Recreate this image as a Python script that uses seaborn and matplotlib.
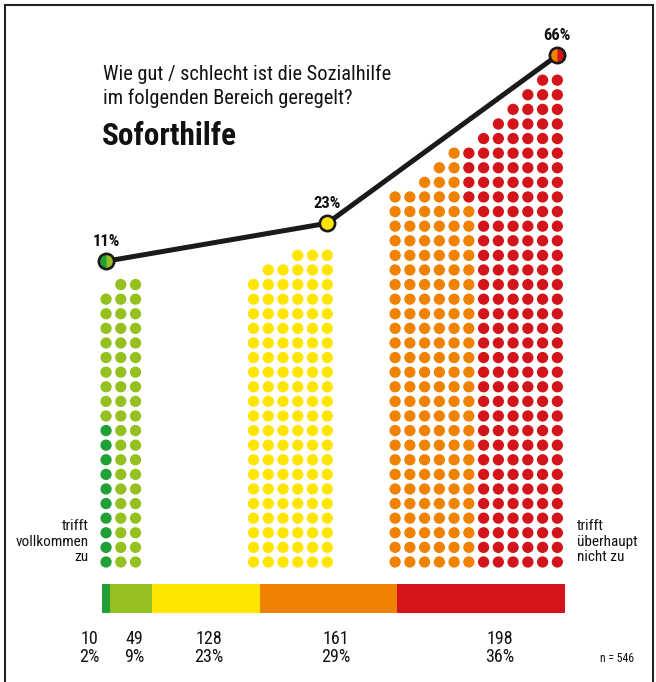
import numpy as np
import pandas as pd
import matplotlib
matplotlib.use('Agg')
import matplotlib.pyplot as plt
from matplotlib import font_manager
from matplotlib.patches import Rectangle
import seaborn as sns

# answer scale, counts and shares (n = 546)
answers = ['trifft vollkommen zu', 'eher zu', 'teils/teils', 'eher nicht', 'trifft überhaupt nicht zu']
counts = [10, 49, 128, 161, 198]
shares = [2, 9, 23, 29, 36]
colors = ['#21a038', '#94c11f', '#ffe500', '#ef8200', '#d3141b']

# grouped shares shown on the line
group_members = [[0, 1], [2], [3, 4]]
group_pct = [11, 23, 66]

# dots per column in each group
col_heights = [
    [19, 20, 20],
    [20, 21, 21, 22, 22, 22],
    [26, 26, 27, 28, 29, 29, 30, 31, 32, 33, 34, 34],
]
group_x0 = [0, 10, 19.6]       # left column of each block, in dot steps
line_col = [0, -1, -1]         # which column the line point sits over
line_gap = [1.6, 2.2, 1.7]     # point height above the top dot row

title = 'Wie gut / schlecht ist die Sozialhilfe\nim folgenden Bereich geregelt?'
subtitle = 'Soforthilfe'
n_total = sum(counts)

sns.set_theme(style='white')

# look for a narrow font, the original uses a condensed face
avail = {(f.name, f.stretch) for f in font_manager.fontManager.ttflist}
names = {f.name for f in font_manager.fontManager.ttflist}
fam, stretch = 'Roboto', 'normal'
if 'Roboto Condensed' in names:
    fam, stretch = 'Roboto Condensed', 'normal'
elif 'Liberation Sans Narrow' in names:
    fam, stretch = 'Liberation Sans Narrow', 'normal'
elif any(n == 'DejaVu Sans' and s in ('condensed', 'semi-condensed') for n, s in avail):
    fam, stretch = 'DejaVu Sans', 'condensed'
elif 'Roboto' not in names:
    fam = 'DejaVu Sans'
plt.rcParams['font.family'] = [fam, 'DejaVu Sans']
plt.rcParams['font.stretch'] = stretch

# build the dot table: columns filled bottom-up, colours assigned column by column
rows = []
for g, heights in enumerate(col_heights):
    cats = []
    for m in group_members[g]:
        cats += [m] * counts[m]
    k = 0
    for c, h in enumerate(heights):
        for r in range(h):
            rows.append({'x': group_x0[g] + c, 'y': r, 'cat': cats[k]})
            k += 1
dots = pd.DataFrame(rows)

fig = plt.figure(figsize=(6.56, 6.82), dpi=100)
ax = fig.add_axes([0, 0, 1, 1])
ax.set_xlim(-7.19, 37.29)
ax.set_ylim(-8.22, 38.49)
ax.axis('off')

sns.scatterplot(data=dots, x='x', y='y', hue='cat', palette=dict(enumerate(colors)),
                s=66, linewidth=0, legend=False, ax=ax, zorder=2)

# connecting line with half-coloured points
lx = [group_x0[g] + (len(h) - 1 if line_col[g] == -1 else line_col[g]) for g, h in enumerate(col_heights)]
ly = [max(h) - 1 + line_gap[g] for g, h in enumerate(col_heights)]
sns.lineplot(x=lx, y=ly, sort=False, color='#1a1a1a', linewidth=3.6, ax=ax, zorder=3)
for g in range(3):
    mem = group_members[g]
    # right colour as base, left half on top, then the outline
    ax.plot(lx[g], ly[g], marker='o', ms=11, mew=0, mfc=colors[mem[-1]], zorder=4)
    ax.plot(lx[g], ly[g], marker='o', ms=11, mew=0, fillstyle='left',
            mfc=colors[mem[0]], mfcalt='none', zorder=4)
    ax.plot(lx[g], ly[g], marker='o', ms=11, mew=1.9, mec='#1a1a1a', mfc='none', zorder=5)
    ax.text(lx[g], ly[g] + 1.35, f'{group_pct[g]}%', ha='center', va='center',
            fontsize=12, fontweight='bold', color='#111111', zorder=5)

# proportional bar
bar_left, bar_width = -0.29, 31.41
lefts = bar_left + bar_width * np.concatenate([[0], np.cumsum(counts)[:-1]]) / n_total
widths = bar_width * np.array(counts) / n_total
ax.barh(y=-2.5, width=widths, left=lefts, height=1.98, color=colors, linewidth=0, zorder=2)

nudge = [-1.1, 0.2, 0.2, 0.5, 1.3]
for i in range(len(counts)):
    ax.text(lefts[i] + widths[i] / 2 + nudge[i], -5.9, f'{counts[i]}\n{shares[i]}%',
            ha='center', va='center', fontsize=13, linespacing=1.0, color='#111111')
ax.text(33.5, -6.6, f'n = {n_total}', ha='left', va='center', fontsize=8.5, color='#111111')

ax.text(-1.2, 1.4, 'trifft\nvollkommen\nzu', ha='right', va='center', fontsize=11,
        linespacing=1.1, color='#111111')
ax.text(31.9, 1.4, 'trifft\nüberhaupt\nnicht zu', ha='left', va='center', fontsize=11,
        linespacing=1.1, color='#111111')

fig.text(0.157, 0.874, title, ha='left', va='center', fontsize=14.7, linespacing=1.3, color='#111111')
fig.text(0.155, 0.800, subtitle, ha='left', va='center', fontsize=22.5, fontweight='bold', color='#111111')

fig.patches.append(Rectangle((0.0076, -0.02), 0.9874, 1.0127, transform=fig.transFigure,
                             fill=False, edgecolor='#222222', linewidth=1.5))

fig.savefig('out.png', dpi=100)
